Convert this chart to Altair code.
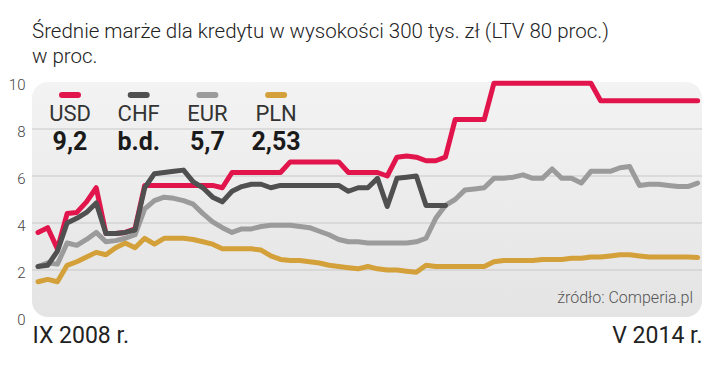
import altair as alt
import pandas as pd

# ---------------- data ----------------
months = list(range(69))  # IX 2008 ... V 2014, monthly

usd = [3.6, 3.8, 2.9, 4.4, 4.45, 4.9, 5.5, 3.55, 3.55, 3.6,
       3.75, 5.6, 5.6, 5.6, 5.6, 5.6, 5.6, 5.6, 5.6, 5.5,
       6.15, 6.15, 6.15, 6.15, 6.15, 6.15, 6.6, 6.6, 6.6, 6.6,
       6.6, 6.6, 6.15, 6.15, 6.15, 6.15, 6.0, 6.8, 6.85, 6.8,
       6.65, 6.65, 6.8, 8.4, 8.4, 8.4, 8.4, 9.95, 9.95, 9.95,
       9.95, 9.95, 9.95, 9.95, 9.95, 9.95, 9.95, 9.95, 9.2, 9.2,
       9.2, 9.2, 9.2, 9.2, 9.2, 9.2, 9.2, 9.2, 9.2]

chf = [2.15, 2.2, 2.8, 4.0, 4.2, 4.45, 4.85, 3.55, 3.55, 3.6,
       3.7, 5.5, 6.1, 6.15, 6.2, 6.25, 5.75, 5.5, 5.1, 4.9,
       5.35, 5.55, 5.65, 5.65, 5.5, 5.6, 5.6, 5.6, 5.6, 5.6,
       5.6, 5.6, 5.35, 5.5, 5.5, 5.9, 4.7, 5.9, 5.95, 6.0,
       4.75, 4.75, 4.75]

eur = [2.15, 2.3, 2.25, 3.15, 3.05, 3.3, 3.6, 3.2, 3.25, 3.35,
       3.5, 4.6, 4.95, 5.1, 5.05, 4.95, 4.8, 4.4, 4.05, 3.8,
       3.6, 3.75, 3.75, 3.85, 3.9, 3.9, 3.9, 3.85, 3.8, 3.65,
       3.5, 3.3, 3.2, 3.2, 3.15, 3.15, 3.15, 3.15, 3.15, 3.2,
       3.35, 4.2, 4.75, 5.0, 5.4, 5.45, 5.5, 5.9, 5.9, 5.95,
       6.05, 5.9, 5.9, 6.3, 5.9, 5.9, 5.7, 6.2, 6.2, 6.2,
       6.35, 6.4, 5.6, 5.65, 5.65, 5.6, 5.55, 5.55, 5.7]

pln = [1.5, 1.6, 1.5, 2.2, 2.35, 2.55, 2.75, 2.65, 2.95, 3.15,
       2.95, 3.35, 3.1, 3.35, 3.35, 3.35, 3.3, 3.2, 3.1, 2.9,
       2.9, 2.9, 2.9, 2.85, 2.6, 2.45, 2.4, 2.4, 2.35, 2.3,
       2.2, 2.15, 2.1, 2.05, 2.15, 2.05, 2.0, 2.0, 1.95, 1.9,
       2.2, 2.15, 2.15, 2.15, 2.15, 2.15, 2.15, 2.35, 2.4, 2.4,
       2.4, 2.4, 2.45, 2.45, 2.45, 2.5, 2.5, 2.55, 2.55, 2.6,
       2.65, 2.65, 2.6, 2.55, 2.55, 2.55, 2.55, 2.55, 2.53]

series_names = ["USD", "CHF", "EUR", "PLN"]
series_colors = ["#e2144c", "#505050", "#9b9b9b", "#d4a03a"]
legend_values = ["9,2", "b.d.", "5,7", "2,53"]
y_ticks = [0, 2, 4, 6, 8, 10]
grid_values = [2, 4, 6, 8]
x_tick_labels = ["IX 2008 r.", "V 2014 r."]
title_lines = ["Średnie marże dla kredytu w wysokości 300 tys. zł (LTV 80 proc.)",
               "w proc."]
source_text = "źródło: Comperia.pl"

# ---------------- build tables ----------------
values_by_series = {"USD": usd, "CHF": chf, "EUR": eur, "PLN": pln}
rows = []
for name, vals in values_by_series.items():
    for m, v in zip(months, vals):
        rows.append({"series": name, "month": m, "value": v})
df = pd.DataFrame(rows)

W, H = 670, 235
FONT = "Roboto"
x_dom = [-0.62, 68.45]

color_scale = alt.Scale(domain=series_names, range=series_colors)
y_scale = alt.Scale(domain=[0, 10], nice=False)
y_axis = alt.Axis(
    values=y_ticks, title=None, ticks=False, domain=False, grid=False,
    labelFontSize=15, labelColor="#444", labelFont=FONT, labelFontWeight=300,
    labelPadding=7, labelOffset=2,
)

x_enc = alt.X(
    "month:Q",
    scale=alt.Scale(domain=x_dom, nice=False, zero=False),
    axis=alt.Axis(
        values=x_dom, title=None, ticks=False, domain=False, grid=False,
        labelFlush=True, labelFontSize=23, labelColor="#222", labelFont=FONT,
        labelPadding=7,
        labelExpr=f"datum.value < 30 ? '{x_tick_labels[0]}' : '{x_tick_labels[1]}'",
    ),
)
y_enc = alt.Y("value:Q", scale=y_scale, axis=y_axis)

panel = alt.Chart(pd.DataFrame({"a": [0]})).mark_rect(
    cornerRadius=16,
    color=alt.LinearGradient(
        gradient="linear", x1=0, y1=0, x2=0, y2=1,
        stops=[alt.GradientStop(color="#f3f3f3", offset=0),
               alt.GradientStop(color="#e4e4e4", offset=1)],
    ),
).encode(x=alt.value(0), x2=alt.value(W), y=alt.value(0), y2=alt.value(H))

grid = alt.Chart(pd.DataFrame({"value": grid_values})).mark_rule(
    color="#c8c8c8", strokeWidth=1
).encode(
    y=y_enc,
    x=alt.value(0), x2=alt.value(W),
)

line_layers = []
for name in ["PLN", "EUR", "USD", "CHF"]:
    line_layers.append(
        alt.Chart(df[df["series"] == name]).mark_line(
            strokeWidth=5, strokeCap="round", strokeJoin="round"
        ).encode(
            x=x_enc, y=y_enc,
            color=alt.Color("series:N", scale=color_scale, legend=None),
        )
    )

# legend block (top-left, inside the panel)
leg_x0, leg_dx = 38, 68.7
leg = pd.DataFrame({
    "series": series_names,
    "val": legend_values,
    "cx": [leg_x0 + i * leg_dx for i in range(len(series_names))],
})
leg["x1"] = leg["cx"] - 8
leg["x2"] = leg["cx"] + 8

leg_bars = alt.Chart(leg).mark_rule(strokeWidth=6, strokeCap="round").encode(
    x=alt.X("x1:Q", scale=None), x2="x2:Q", y=alt.value(13),
    color=alt.Color("series:N", scale=color_scale, legend=None),
)
leg_names = alt.Chart(leg).mark_text(
    font=FONT, fontSize=22, color="#333", align="center", baseline="middle"
).encode(x=alt.X("cx:Q", scale=None), y=alt.value(32), text="series:N")
leg_vals = alt.Chart(leg).mark_text(
    font=FONT, fontSize=25, fontWeight="bold", color="#1a1a1a",
    align="center", baseline="middle"
).encode(x=alt.X("cx:Q", scale=None), y=alt.value(60), text="val:N")

source = alt.Chart(pd.DataFrame({"t": [source_text]})).mark_text(
    font=FONT, fontSize=16, fontWeight=300, color="#555",
    align="right", baseline="middle"
).encode(x=alt.value(661), y=alt.value(216), text="t:N")

chart = alt.layer(
    panel, grid, *line_layers, leg_bars, leg_names, leg_vals, source
).properties(
    width=W, height=H,
    autosize=alt.AutoSizeParams(type="none"),
    padding={"left": 24, "top": 74, "right": 8, "bottom": 40},
    title=alt.TitleParams(
        text=title_lines, anchor="start", frame="group", font=FONT,
        fontSize=20.5, fontWeight=300, color="#222", lineHeight=25, offset=10,
    ),
).configure_view(stroke=None)

chart.save("out.html", embed_options={"renderer": "svg", "actions": False})
